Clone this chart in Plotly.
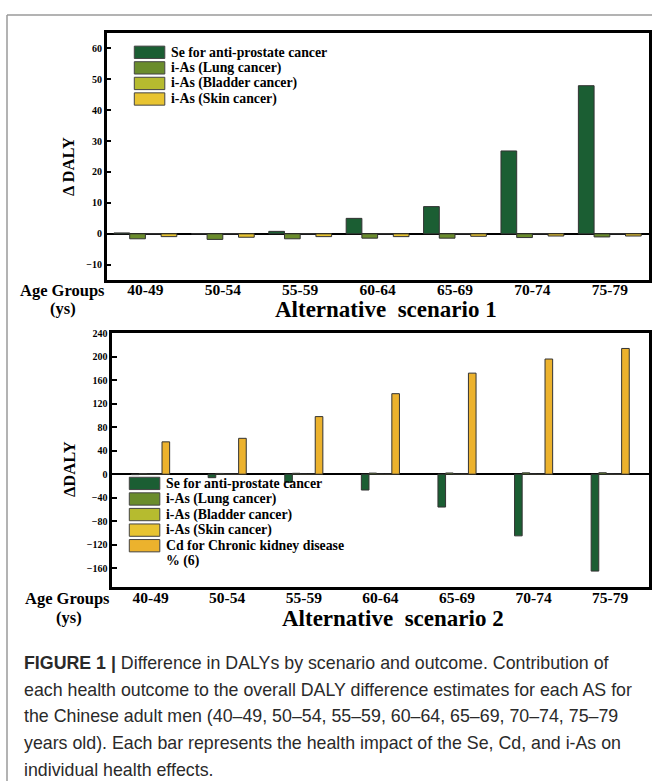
import plotly.graph_objects as go

# ---------------- data ----------------
age_groups = ["40-49", "50-54", "55-59", "60-64", "65-69", "70-74", "75-79"]

series_names = ["Se for anti-prostate cancer", "i-As (Lung cancer)",
                "i-As (Bladder cancer)", "i-As (Skin cancer)",
                "Cd for Chronic kidney disease"]
series_colors = ["#1B5E33", "#6A8C2C", "#B6BB2F", "#E8C431", "#ECB22D"]

# Alternative scenario 1
s1_se = [0.3, 0.0, 0.8, 5.0, 8.8, 26.8, 47.9]
s1_lung = [-1.6, -1.8, -1.6, -1.4, -1.4, -1.2, -1.0]
s1_bladder = [0.0, 0.0, 0.0, 0.0, 0.0, 0.0, 0.0]
s1_skin = [-0.9, -1.1, -0.9, -0.9, -0.8, -0.7, -0.7]

# Alternative scenario 2
s2_se = [-0.8, -6.0, -14.0, -27.0, -56.0, -105.0, -165.0]
s2_lung = [1.0, 1.2, 1.5, 1.8, 2.0, 2.2, 2.4]
s2_bladder = [0.2, 0.2, 0.3, 0.3, 0.3, 0.4, 0.4]
s2_skin = [0.1, 0.1, 0.1, 0.2, 0.2, 0.2, 0.2]
s2_cd = [55.0, 61.0, 98.0, 137.0, 172.0, 196.0, 214.0]

caption_lines = [
    "<b>FIGURE 1 |</b> Difference in DALYs by scenario and outcome. Contribution of",
    "each health outcome to the overall DALY difference estimates for each AS for",
    "the Chinese adult men (40\u201349, 50\u201354, 55\u201359, 60\u201364, 65\u201369, 70\u201374, 75\u201379",
    "years old). Each bar represents the health impact of the Se, Cd, and i-As on",
    "individual health effects.",
]

# ---------------- layout helpers ----------------
W, H = 652, 781


def px(x):
    return x / W


def py(y):
    return 1 - y / H


SERIF = "Liberation Serif"
SANS = "Liberation Sans"

fig = go.Figure()

top_vals = [s1_se, s1_lung, s1_bladder, s1_skin]
bw1 = 0.203
for i, vals in enumerate(top_vals):
    fig.add_trace(go.Bar(
        x=age_groups, y=vals, name=series_names[i],
        marker=dict(color=series_colors[i], line=dict(color="#333333", width=1)),
        width=bw1, offset=-2 * bw1 + i * bw1,
        xaxis="x", yaxis="y", showlegend=False))

bot_vals = [s2_se, s2_lung, s2_bladder, s2_skin, s2_cd]
bw2 = 0.0995
for i, vals in enumerate(bot_vals):
    fig.add_trace(go.Bar(
        x=age_groups, y=vals, name=series_names[i],
        marker=dict(color=series_colors[i], line=dict(color="#333333", width=1)),
        width=bw2, offset=-2.5 * bw2 + i * bw2,
        xaxis="x2", yaxis="y2", showlegend=False))

axis_common = dict(showline=True, mirror=True, linecolor="black", linewidth=2.5,
                   showgrid=False)
xaxis_common = dict(axis_common, type="category", categoryorder="array",
                    categoryarray=age_groups, range=[-0.5, 6.5], ticks="",
                    tickfont=dict(family=SERIF, size=15.5, color="black", weight="bold"))
yaxis_common = dict(axis_common, ticks="inside", ticklen=5, tickwidth=2,
                    tickcolor="black", zeroline=True, zerolinecolor="black",
                    zerolinewidth=2,
                    tickfont=dict(family=SERIF, size=10, color="black", weight="bold"))

fig.update_layout(
    width=W, height=H, margin=dict(l=0, r=0, t=0, b=0),
    paper_bgcolor="white", plot_bgcolor="white",
    barmode="overlay", showlegend=False,
    xaxis=dict(xaxis_common, domain=[px(106.7), px(648.5)], anchor="y",
               ticklabelstandoff=-7),
    yaxis=dict(yaxis_common, domain=[py(277), py(28)], range=[-15, 65],
               dtick=10, anchor="x"),
    xaxis2=dict(xaxis_common, domain=[px(112.3), px(648.5)], anchor="y2",
                ticklabelstandoff=-5),
    yaxis2=dict(yaxis_common, domain=[py(585.7), py(330)], range=[-192, 240.5],
                dtick=40, anchor="x2"),
)

annotations = []
shapes = []


def text(x, y, s, size, family=SERIF, bold=True, xanchor="center", angle=0,
         color="black"):
    annotations.append(dict(
        x=px(x), y=py(y), xref="paper", yref="paper", text=s, showarrow=False,
        xanchor=xanchor, yanchor="middle", textangle=angle,
        font=dict(family=family, size=size, color=color,
                  weight="bold" if bold else "normal")))


# axis labels / titles
text(62.5, 287, "Age Groups", 16.5)
text(62.5, 305, "(ys)", 16.5)
text(386, 306, "Alternative\u00a0 scenario 1", 23)
text(69, 163, "\u0394 DALY", 16.5, angle=-90)

text(67.5, 597, "Age Groups", 16.5)
text(69, 616, "(ys)", 16.5)
text(393, 617, "Alternative\u00a0 scenario 2", 23)
text(69, 467, "\u0394DALY", 16.5, angle=-90)

# manual legends
row = 15.67


def legend(x0, y0, n, extra=None):
    for i in range(n):
        cy = y0 + i * row
        shapes.append(dict(type="rect", xref="paper", yref="paper",
                           x0=px(x0), x1=px(x0 + 30.5), y0=py(cy + 6.2), y1=py(cy - 6.2),
                           fillcolor=series_colors[i],
                           line=dict(color="#444444", width=1)))
        text(x0 + 35, cy, series_names[i], 13.8, xanchor="left")
    if extra:
        text(x0 + 35, y0 + n * row, extra, 13.8, xanchor="left")


legend(134.3, 47.6, 4)
legend(129.3, 481.5, 5, extra="% (6)")

# frame
shapes.append(dict(type="line", xref="paper", yref="paper", x0=px(7), x1=px(660),
                   y0=py(10), y1=py(10), line=dict(color="#9a9a9a", width=1.5)))
shapes.append(dict(type="line", xref="paper", yref="paper", x0=px(7), x1=px(7),
                   y0=py(10), y1=py(800), line=dict(color="#9a9a9a", width=1.5)))

# caption
for i, line in enumerate(caption_lines):
    text(22, 662 + i * 27.0, line, 17.8, family=SANS, bold=False, xanchor="left",
         color="#2a2a2a")

fig.update_layout(annotations=annotations, shapes=shapes)

fig.write_html("out.html", config={"displayModeBar": False},
               post_script="document.body.style.margin='0';")
